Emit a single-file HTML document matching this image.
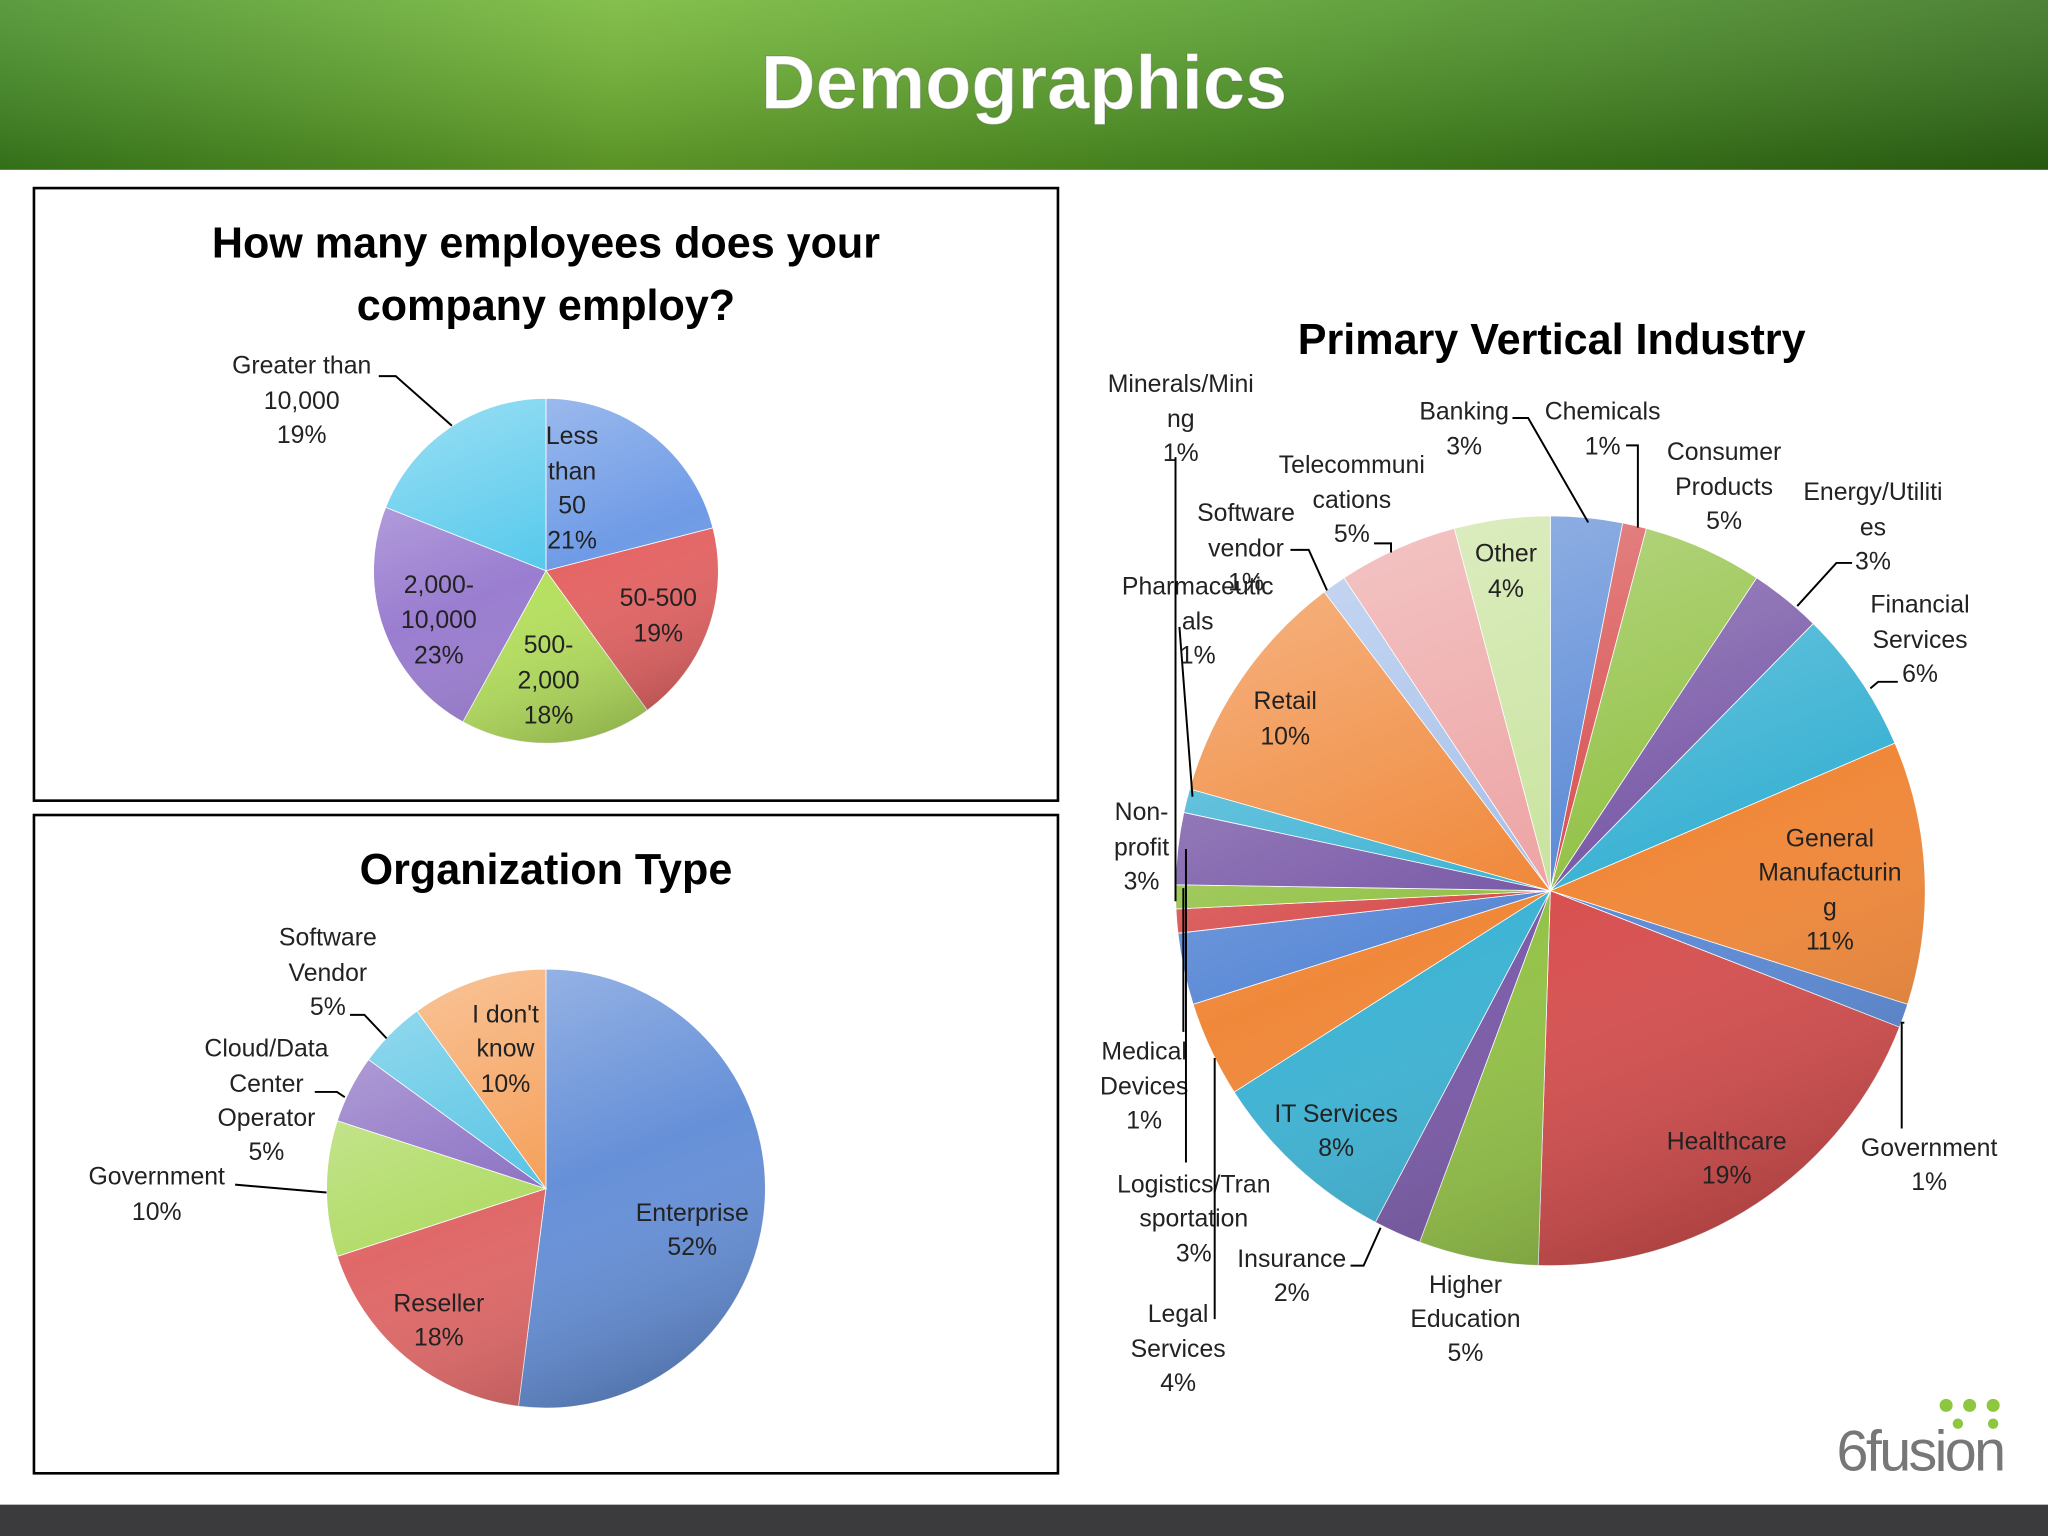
<!DOCTYPE html>
<html><head><meta charset="utf-8"><style>
html,body{margin:0;padding:0;background:#fff}
svg{display:block}
text{font-family:"Liberation Sans",sans-serif}
</style></head><body>
<svg id="s" width="2048" height="1536" viewBox="0 0 1568 1176" xmlns="http://www.w3.org/2000/svg">
<defs>
<linearGradient id="hdr" x1="0" y1="0" x2="1" y2="0">
<stop offset="0" stop-color="#3f8a1e"/><stop offset="0.3" stop-color="#6fb52e"/><stop offset="0.6" stop-color="#4f9a22"/><stop offset="1" stop-color="#2f6d14"/></linearGradient>
<linearGradient id="hdr2" x1="0" y1="0" x2="0" y2="1">
<stop offset="0" stop-color="#fff" stop-opacity="0.15"/><stop offset="1" stop-color="#000" stop-opacity="0.2"/></linearGradient>
<linearGradient id="shade" x1="0.3" y1="0" x2="0.7" y2="1">
<stop offset="0" stop-color="#fff" stop-opacity="0.35"/><stop offset="0.5" stop-color="#fff" stop-opacity="0"/><stop offset="1" stop-color="#000" stop-opacity="0.22"/></linearGradient>
</defs>
<rect x="0" y="0" width="1568" height="130" fill="url(#hdr)"/>
<rect x="0" y="0" width="1568" height="130" fill="url(#hdr2)"/>
<text x="784" y="83" text-anchor="middle" font-size="58" font-weight="bold" fill="#fff" stroke="#333" stroke-opacity="0.2">Demographics</text>
<rect x="0" y="1152" width="1568" height="24" fill="#3b3b3d"/>
<rect x="26" y="144" width="784" height="469" fill="none" stroke="#000" stroke-width="2"/>
<rect x="26" y="624" width="784" height="504" fill="none" stroke="#000" stroke-width="2"/>
<g id="p1"></g>
<g id="p2"></g>
<g id="p3"></g>
<g font-size="33" font-weight="bold" text-anchor="middle" fill="#000">
<text x="418" y="197">How many employees does your</text>
<text x="418" y="245">company employ?</text>
<text x="418" y="677">Organization Type</text>
<text x="1188" y="271">Primary Vertical Industry</text>
</g>
<g id="labels" font-size="19" fill="#222" text-anchor="middle"></g>
<g fill="none" stroke="#000" stroke-width="1.5">
<polyline points="290,288 303,288 346,326"/>
<polyline points="268,777 279,777 296,795"/>
<polyline points="241,836 258,836 264,840"/>
<polyline points="180,907 250,913"/>
<polyline points="1158,320 1170,320 1216,400"/>
<polyline points="1245,341 1254,341 1254,404"/>
<polyline points="1418,431 1406,431 1376,464"/>
<polyline points="1453,522 1438,522 1432,527"/>
<polyline points="1458,783 1456,783 1456,864"/>
<polyline points="988,421 1002,421 1016,452"/>
<polyline points="1052,416 1065,416 1065,423"/>
<polyline points="1034,969 1044,969 1057,940"/>
<polyline points="900,350 900,690"/>
<polyline points="903,480 913,610"/>
<polyline points="906,680 906,790"/>
<polyline points="908,650 908,890"/>
<polyline points="930,1010 930,810"/>
</g>
<g>
<text x="1470" y="1126" text-anchor="middle" font-size="44" fill="#777" font-family="Liberation Sans, sans-serif" letter-spacing="-2">6fusion</text>
<g fill="#8dc63f"><circle cx="1490" cy="1076" r="5"/><circle cx="1508" cy="1076" r="5"/><circle cx="1526" cy="1076" r="5"/><circle cx="1499" cy="1090" r="4"/><circle cx="1526" cy="1090" r="4"/></g>
</g>
</svg>
<script>
// Chart 1 data
const empCats=["Less than 50","50-500","500-2,000","2,000-10,000","Greater than 10,000"];
const empVals=[21,19,18,23,19];
// Chart 2 data
const orgCats=["Enterprise","Reseller","Government","Cloud/Data Center Operator","Software Vendor","I don't know"];
const orgVals=[52,18,10,5,5,10];
// Chart 3 data
const indCats=["Banking","Chemicals","Consumer Products","Energy/Utilities","Financial Services","General Manufacturing","Government","Healthcare","Higher Education","Insurance","IT Services","Legal Services","Logistics/Transportation","Medical Devices","Minerals/Mining","Non-profit","Pharmaceuticals","Retail","Software vendor","Telecommunications","Other"];
const indVals=[3,1,5,3,6,11,1,19,5,2,8,4,3,1,1,3,1,10,1,5,4];

const pal=["#5b8ad6","#d84f4f","#93c247","#7a5aa8","#3eb3d4","#f0883a"];
const lite=["#a6c0ea","#eda3a3","#c9e39e","#b7a6d6","#9bd8ea","#f7bb8e"];
const NS="http://www.w3.org/2000/svg";
function pie(gid,vals,cx,cy,r,colorFn,name){
  const g=document.getElementById(gid);
  const tot=vals.reduce((a,b)=>a+b,0);
  let a0=-Math.PI/2;
  vals.forEach((v,i)=>{
    const a1=a0+v/tot*2*Math.PI;
    const x0=cx+r*Math.cos(a0),y0=cy+r*Math.sin(a0),x1=cx+r*Math.cos(a1),y1=cy+r*Math.sin(a1);
    const p=document.createElementNS(NS,"path");
    p.setAttribute("d",`M${cx},${cy}L${x0},${y0}A${r},${r} 0 ${a1-a0>Math.PI?1:0} 1 ${x1},${y1}Z`);
    p.setAttribute("fill",colorFn(i));
    p.setAttribute("stroke","#fff");p.setAttribute("stroke-width","0.6");
    
    
    g.appendChild(p);a0=a1;
  });
  const c=document.createElementNS(NS,"circle");
  c.setAttribute("cx",cx);c.setAttribute("cy",cy);c.setAttribute("r",r);c.setAttribute("fill","url(#shade)");
  
  
  g.appendChild(c);
}
pie("p1",empVals,418,437,132,i=>["#6f9be6","#e56464","#b5e05e","#9a7dd0","#56c9ec"][i],"employees");
pie("p2",orgVals,418,910,168,i=>["#6690d8","#e06868","#b2dc6a","#8d72c4","#58c4e4","#f5a05a"][i],"org");
pie("p3",indVals,1187,682,287,i=>i<18?pal[i%6]:lite[i%6],"industry");

const L=[
["employees-label",[["Greater than",231,286],["10,000",231,313],["19%",231,339]]],
["employees-label",[["Less",438,340],["than",438,367],["50",438,393],["21%",438,420]]],
["employees-label",[["50-500",504,464],["19%",504,491]]],
["employees-label",[["500-",420,500],["2,000",420,527],["18%",420,554]]],
["employees-label",[["2,000-",336,454],["10,000",336,481],["23%",336,508]]],
["org-label",[["Software",251,724],["Vendor",251,751],["5%",251,777]]],
["org-label",[["Cloud/Data",204,809],["Center",204,836],["Operator",204,862],["5%",204,888]]],
["org-label",[["Government",120,907],["10%",120,934]]],
["org-label",[["I don't",387,783],["know",387,809],["10%",387,836]]],
["org-label",[["Enterprise",530,935],["52%",530,961]]],
["org-label",[["Reseller",336,1004],["18%",336,1030]]],
["industry-label",[["Minerals/Mini",904,300],["ng",904,327],["1%",904,353]]],
["industry-label",[["Banking",1121,321],["3%",1121,348]]],
["industry-label",[["Chemicals",1227,321],["1%",1227,348]]],
["industry-label",[["Consumer",1320,352],["Products",1320,379],["5%",1320,405]]],
["industry-label",[["Energy/Utiliti",1434,383],["es",1434,410],["3%",1434,436]]],
["industry-label",[["Financial",1470,469],["Services",1470,496],["6%",1470,522]]],
["industry-label",[["General",1401,648],["Manufacturin",1401,674],["g",1401,701],["11%",1401,727]]],
["industry-label",[["Government",1477,885],["1%",1477,911]]],
["industry-label",[["Healthcare",1322,880],["19%",1322,906]]],
["industry-label",[["Higher",1122,990],["Education",1122,1016],["5%",1122,1042]]],
["industry-label",[["Insurance",989,970],["2%",989,996]]],
["industry-label",[["IT Services",1023,859],["8%",1023,885]]],
["industry-label",[["Legal",902,1012],["Services",902,1039],["4%",902,1065]]],
["industry-label",[["Logistics/Tran",914,913],["sportation",914,939],["3%",914,966]]],
["industry-label",[["Medical",876,811],["Devices",876,838],["1%",876,864]]],
["industry-label",[["Non-",874,628],["profit",874,655],["3%",874,681]]],
["industry-label",[["Pharmaceutic",917,455],["als",917,482],["1%",917,508]]],
["industry-label",[["Retail",984,543],["10%",984,570]]],
["industry-label",[["Software",954,399],["vendor",954,426],["1%",954,452]]],
["industry-label",[["Telecommuni",1035,362],["cations",1035,389],["5%",1035,415]]],
["industry-label",[["Other",1153,430],["4%",1153,457]]]
];
const lg=document.getElementById("labels");
L.forEach(([nm,lines])=>{
  lines.forEach(([t,x,y])=>{
    const e=document.createElementNS(NS,"text");
    e.setAttribute("x",x);e.setAttribute("y",y);e.textContent=t;
    
    
    lg.appendChild(e);
  });
});
</script>
</body></html>
